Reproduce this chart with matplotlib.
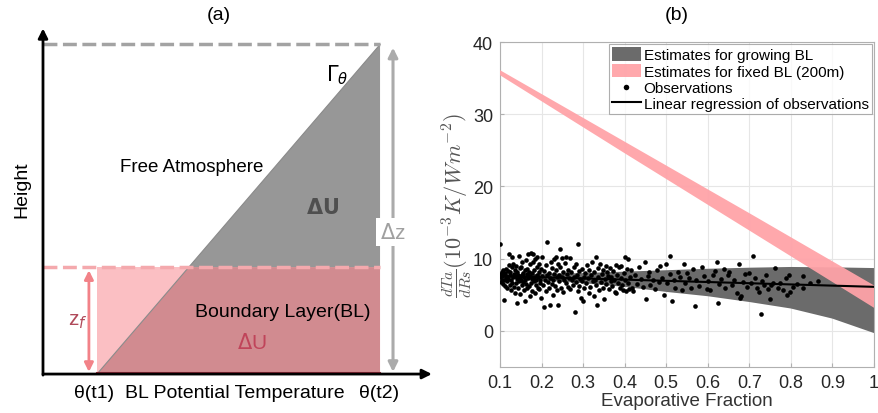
import matplotlib
matplotlib.use("Agg")
import matplotlib.pyplot as plt
from matplotlib.patches import Polygon
import numpy as np

plt.rcParams['font.family'] = ['Liberation Sans', 'DejaVu Sans']

# ---------------- panel (b) data ----------------
ef_ticks = [0.1, 0.2, 0.3, 0.4, 0.5, 0.6, 0.7, 0.8, 0.9, 1.0]
ef_tick_labels = ['0.1', '0.2', '0.3', '0.4', '0.5', '0.6', '0.7', '0.8', '0.9', '1']
sens_ticks = [0, 10, 20, 30, 40]

# growing-BL estimate envelope
grow_ef = [0.1, 0.2, 0.3, 0.4, 0.5, 0.6, 0.7, 0.8, 0.9, 1.0]
grow_upper = [7.8, 7.9, 8.0, 8.2, 8.4, 8.6, 8.75, 8.85, 8.8, 8.7]
grow_lower = [7.3, 7.0, 6.6, 6.1, 5.4, 4.8, 4.0, 3.1, 1.7, -0.3]

# fixed-BL (200 m) estimate envelope
fixed_ef = [0.1, 0.4, 0.7, 1.0]
fixed_upper = [36.1, 26.2, 16.3, 6.3]
fixed_lower = [35.4, 24.6, 13.9, 3.2]

# linear regression of observations
reg_ef = [0.1, 1.0]
reg_sens = [7.6, 6.1]

# observations
obs_ef = [
    0.100, 0.101, 0.102, 0.103, 0.104, 0.105, 0.106, 0.107, 0.108, 0.109,
    0.110, 0.111, 0.112, 0.113, 0.114, 0.115, 0.116, 0.117, 0.118, 0.119,
    0.120, 0.121, 0.122, 0.123, 0.124, 0.125, 0.126, 0.127, 0.128, 0.129,
    0.130, 0.131, 0.132, 0.133, 0.134, 0.135, 0.136, 0.137, 0.138, 0.139,
    0.140, 0.141, 0.142, 0.143, 0.144, 0.145, 0.146, 0.147, 0.148, 0.149,
    0.150, 0.151, 0.152, 0.153, 0.154, 0.155, 0.156, 0.157, 0.158, 0.159,
    0.160, 0.161, 0.162, 0.163, 0.164, 0.165, 0.166, 0.167, 0.168, 0.169,
    0.170, 0.171, 0.172, 0.173, 0.174, 0.175, 0.176, 0.177, 0.178, 0.179,
    0.180, 0.181, 0.182, 0.183, 0.184, 0.185, 0.186, 0.187, 0.188, 0.189,
    0.190, 0.191, 0.192, 0.193, 0.194, 0.195, 0.196, 0.197, 0.198, 0.199,
    0.200, 0.202, 0.204, 0.205, 0.206, 0.208, 0.210, 0.211, 0.213, 0.214,
    0.215, 0.217, 0.218, 0.220, 0.221, 0.222, 0.224, 0.225, 0.227, 0.228,
    0.230, 0.231, 0.233, 0.234, 0.235, 0.236, 0.238, 0.239, 0.240, 0.241,
    0.243, 0.244, 0.245, 0.246, 0.248, 0.250, 0.251, 0.252, 0.254,
    0.256, 0.258, 0.260, 0.261, 0.263, 0.264, 0.266, 0.268, 0.269, 0.271,
    0.273, 0.275, 0.277, 0.279, 0.280, 0.282, 0.283, 0.285, 0.287, 0.288,
    0.290, 0.291, 0.293, 0.295, 0.297, 0.298, 0.300, 0.301,
    0.303, 0.305, 0.307, 0.309, 0.311, 0.313, 0.315, 0.317, 0.319, 0.321,
    0.323, 0.325, 0.327, 0.329, 0.330, 0.332, 0.333, 0.335, 0.337, 0.339,
    0.341, 0.343, 0.345, 0.347, 0.349, 0.350,
    0.352, 0.354, 0.356, 0.358, 0.360, 0.362, 0.364, 0.366, 0.368, 0.370,
    0.372, 0.375, 0.377, 0.379, 0.380, 0.382, 0.384, 0.386, 0.388, 0.390,
    0.392, 0.394, 0.396, 0.398, 0.400, 0.401, 0.403, 0.405, 0.407, 0.409,
    0.410, 0.412, 0.415, 0.418, 0.420,
    0.425, 0.430, 0.435, 0.440, 0.445, 0.450, 0.452, 0.455, 0.458, 0.462,
    0.468, 0.472, 0.478, 0.482, 0.485, 0.490, 0.495, 0.500, 0.503, 0.508,
    0.510, 0.513, 0.518, 0.522, 0.528, 0.533, 0.538, 0.542, 0.546, 0.550,
    0.555, 0.560, 0.565, 0.570, 0.572, 0.578, 0.585, 0.592, 0.597, 0.600,
    0.606, 0.612, 0.618, 0.622, 0.624, 0.628, 0.632, 0.638, 0.642, 0.648,
    0.652, 0.658, 0.664, 0.670, 0.675, 0.678, 0.680, 0.684, 0.690, 0.695,
    0.700, 0.704, 0.710, 0.714, 0.718, 0.723, 0.727, 0.730, 0.735, 0.740,
    0.745, 0.750, 0.752, 0.758, 0.762, 0.768, 0.775, 0.782, 0.788, 0.790,
    0.795, 0.798,
    0.805, 0.815, 0.828, 0.830, 0.845, 0.866,
]
obs_sens = [
    12.0, 7.4, 7.9, 6.8, 8.2, 7.1, 7.6, 6.5, 8.4, 7.0,
    4.3, 7.8, 6.2, 8.0, 7.3, 8.6, 6.9, 7.5, 5.9, 8.3,
    7.2, 9.1, 10.6, 6.4, 7.7, 8.1, 5.6, 7.0, 8.8, 6.7,
    10.3, 7.4, 9.3, 6.1, 7.9, 8.5, 5.3, 7.6, 9.0, 6.6,
    3.9, 7.2, 8.2, 6.0, 7.8, 10.4, 6.9, 8.7, 5.1, 7.5,
    8.9, 7.1, 6.3, 7.7, 9.5, 6.8, 8.0, 5.7, 7.4, 8.4,
    4.1, 7.0, 9.8, 6.5, 7.9, 8.6, 5.9, 10.7, 7.3, 6.2,
    8.2, 9.2, 4.9, 7.6, 6.7, 10.8, 8.0, 5.5, 7.2, 9.6,
    10.6, 6.9, 8.4, 7.5, 5.2, 9.9, 7.0, 6.4, 8.8, 7.8,
    10.2, 6.0, 7.4, 9.3, 5.8, 8.1, 7.1, 6.6, 8.6, 4.6,
    10.3, 7.6, 6.3, 3.3, 8.3, 7.0, 9.1, 5.5, 7.8, 12.3,
    6.8, 8.0, 5.9, 3.6, 7.3, 9.6, 6.5, 8.7, 7.1, 5.0,
    7.9, 10.0, 6.2, 8.4, 10.3, 7.4, 5.7, 9.2, 3.6, 7.7,
    6.9, 8.9, 11.4, 6.0, 7.5, 10.1, 8.2, 5.4, 7.0,
    9.4, 6.6, 10.2, 7.9, 8.5, 6.1, 7.3, 10.1, 5.8, 8.1,
    7.0, 6.4, 8.8, 7.5, 2.6, 9.3, 6.8, 7.7, 5.5, 12.05,
    8.3, 6.2, 7.2, 4.6, 8.6, 6.9, 4.2, 7.4,
    5.9, 8.0, 6.6, 9.1, 7.3, 5.2, 8.4, 6.1, 7.8, 9.6,
    6.9, 4.8, 8.2, 7.1, 10.3, 6.4, 3.6, 8.7, 7.5, 5.6,
    9.3, 6.8, 7.9, 6.0, 8.5, 4.4,
    7.2, 9.0, 6.5, 8.1, 7.6, 5.8, 8.7, 6.9, 7.4, 6.2,
    8.3, 7.0, 5.4, 9.1, 5.3, 7.7, 6.6, 8.9, 5.9, 7.3,
    9.0, 6.3, 5.6, 8.0, 10.2, 7.1, 5.5, 8.6, 6.7, 9.9,
    5.8, 7.4, 8.4, 6.0, 5.5,
    7.8, 6.5, 8.8, 7.2, 6.1, 9.5, 4.4, 7.6, 8.2, 6.3,
    7.0, 5.8, 8.5, 6.8, 9.0, 7.3, 5.0, 9.3, 6.6, 7.9,
    10.4, 4.2, 7.1, 6.0, 8.2, 7.4, 5.6, 9.2, 6.7, 8.0,
    7.3, 5.9, 8.6, 3.5, 7.0, 6.2, 8.9, 7.6, 5.8, 6.9,
    5.6, 7.8, 8.3, 9.5, 3.9, 6.5, 7.2, 8.6, 6.0, 7.7,
    8.2, 6.4, 7.1, 5.3, 9.2, 4.6, 4.9, 6.8, 7.9, 6.1,
    8.0, 6.6, 10.4, 7.3, 6.0, 5.4, 2.4, 6.9, 6.3, 7.8,
    5.8, 4.4, 6.4, 6.7, 8.7, 6.0, 6.6, 5.7, 7.3, 5.0,
    7.8, 5.4,
    6.1, 6.5, 7.6, 5.9, 6.6, 6.9,
]

# ---------------- panel (a) geometry (schematic units) ----------------
theta_t1 = 1.0          # initial BL potential temperature
theta_t2 = 6.24         # final BL potential temperature
z_f = 1.0               # fixed boundary-layer depth
z_top = 3.08            # top of the grown boundary layer

fig = plt.figure(figsize=(8.79, 4.14), dpi=100)

# ======== panel (a): schematic ========
axa = fig.add_axes([0, 0, 440 / 879, 1])
axa.set_xlim(-0.796, 7.35)
axa.set_ylim(-0.364, 3.505)
axa.axis('off')

x_int = theta_t1 + (theta_t2 - theta_t1) * z_f / z_top

col_gray = '#979797'
col_pink = '#fbbfc3'
col_rose = '#d18b90'

axa.add_patch(Polygon([(x_int, z_f), (theta_t2, z_top), (theta_t2, z_f)],
                      closed=True, facecolor=col_gray, edgecolor='none'))
axa.add_patch(Polygon([(theta_t1, 0), (theta_t1, z_f), (x_int, z_f)],
                      closed=True, facecolor=col_pink, edgecolor='none'))
axa.add_patch(Polygon([(theta_t1, 0), (x_int, z_f), (theta_t2, z_f), (theta_t2, 0)],
                      closed=True, facecolor=col_rose, edgecolor='none'))
axa.plot([theta_t1, theta_t2], [0, z_top], color='#8a8a8a', lw=0.8)
axa.plot([theta_t1, theta_t2], [0.01, 0.01], color='#a03040', lw=1.5)

# dashed levels
axa.plot([0, theta_t2], [z_top, z_top], color='#a3a3a3', lw=2.5,
         dashes=(4, 1.6), solid_capstyle='butt')
axa.plot([0, theta_t2], [z_f, z_f], color='#f4a9ad', lw=2.5,
         dashes=(4, 1.6), solid_capstyle='butt')

# axes arrows
axa.annotate('', xy=(7.2, 0), xytext=(0, 0),
             arrowprops=dict(arrowstyle='-|>', color='black', lw=2,
                             mutation_scale=14, shrinkA=0, shrinkB=0))
axa.annotate('', xy=(0, 3.23), xytext=(0, -0.01),
             arrowprops=dict(arrowstyle='-|>', color='black', lw=2,
                             mutation_scale=14, shrinkA=0, shrinkB=0))

# delta-z arrow
axa.annotate('', xy=(6.48, 3.05), xytext=(6.48, 0.02),
             arrowprops=dict(arrowstyle='<|-|>', color='#ababab', lw=2.2,
                             mutation_scale=14, shrinkA=0, shrinkB=0))
axa.text(6.48, 1.33, r'$\Delta$z', color='#a0a0a0', fontsize=15,
         ha='center', va='center',
         bbox=dict(facecolor='white', edgecolor='none', pad=3))

# z_f arrow
axa.annotate('', xy=(0.85, z_f - 0.03), xytext=(0.85, 0.02),
             arrowprops=dict(arrowstyle='<|-|>', color='#f28288', lw=2,
                             mutation_scale=13, shrinkA=0, shrinkB=0))
axa.text(0.64, 0.5, r'z$_{f}$', color='#b04a5a', fontsize=15,
         ha='center', va='center', math_fontfamily='dejavusans')

# labels
axa.text(5.45, 2.80, r'$\Gamma_\theta$', fontsize=15, ha='center', va='center',
         math_fontfamily='dejavusans')
axa.text(2.76, 1.94, 'Free Atmosphere', fontsize=13.5, ha='center', va='center')
axa.text(5.17, 1.56, r'$\mathbf{\Delta U}$', fontsize=15, color='#4f4f4f',
         ha='center', va='center', math_fontfamily='dejavusans')
axa.text(4.43, 0.58, 'Boundary Layer(BL)', fontsize=14, ha='center', va='center')
axa.text(3.87, 0.30, r'$\Delta$U', fontsize=15, color='#c0445a',
         ha='center', va='center')
axa.text(0.94, -0.17, 'θ(t1)', fontsize=14, ha='center', va='center')
axa.text(3.55, -0.17, 'BL Potential Temperature', fontsize=14,
         ha='center', va='center')
axa.text(6.22, -0.17, 'θ(t2)', fontsize=14, ha='center', va='center')
axa.text(-0.39, 1.73, 'Height', fontsize=14, rotation=90,
         ha='center', va='center')
axa.text(3.26, 3.36, '(a)', fontsize=14, ha='center', va='center')

# ======== panel (b): sensitivity vs evaporative fraction ========
axb = fig.add_axes([500 / 879, 46 / 414, 374 / 879, 325 / 414])
axb.set_xlim(0.1, 1.0)
axb.set_ylim(-5, 40)

axb.fill_between(grow_ef, grow_lower, grow_upper, facecolor='#6b6b6b',
                 edgecolor='none', zorder=2,
                 label='Estimates for growing BL')
axb.fill_between(fixed_ef, fixed_lower, fixed_upper, facecolor='#ffa3a8',
                 edgecolor='none', alpha=0.95, zorder=3,
                 label='Estimates for fixed BL (200m)')
axb.scatter(obs_ef, obs_sens, s=11, color='black', zorder=4,
            linewidths=0, label='Observations')
axb.plot(reg_ef, reg_sens, color='black', lw=1.5, zorder=5,
         label='Linear regression of observations')

axb.set_xticks(ef_ticks)
axb.set_xticklabels(ef_tick_labels)
axb.set_yticks(sens_ticks)
axb.grid(True, color='#e6e6e6', lw=0.8)
axb.set_axisbelow(True)
for sp in axb.spines.values():
    sp.set_color('#b0b0b0')
    sp.set_linewidth(0.8)
axb.tick_params(direction='in', length=3, color='#b0b0b0',
                labelsize=13, labelcolor='#262626', pad=5)

axb.set_xlabel('Evaporative Fraction', fontsize=13.5, color='#333333', labelpad=1)
axb.set_ylabel(r'$\frac{dTa}{dRs}(10^{-3}K/Wm^{-2})$', fontsize=16,
               color='#555555', math_fontfamily='cm', labelpad=0)
fig.text(677 / 879, 1 - 15 / 414, '(b)', fontsize=14, ha='center', va='center')

leg = axb.legend(loc='upper right', fontsize=11.0, frameon=True, fancybox=False,
                 borderpad=0.2, labelspacing=0.1, handlelength=1.85,
                 handleheight=0.95, handletextpad=0.2, borderaxespad=0.15,
                 markerscale=1.2)
leg.get_frame().set_edgecolor('#9a9a9a')
leg.get_frame().set_linewidth(0.8)

fig.savefig('out.png', dpi=100)
